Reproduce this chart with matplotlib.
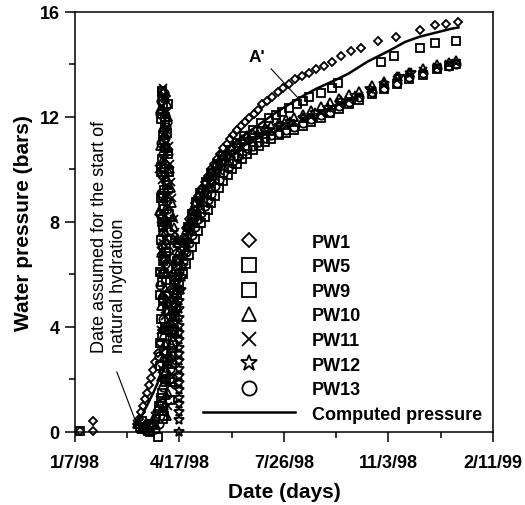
import matplotlib
matplotlib.use('Agg')
import matplotlib.pyplot as plt

plt.rcParams['font.family'] = ['Liberation Sans', 'DejaVu Sans']

# x values are days counted from 1/7/98
tick_days = [0, 100, 200, 300, 400]
tick_labels = ['1/7/98', '4/17/98', '7/26/98', '11/3/98', '2/11/99']

# PW1 (diamonds)
pw1_days = [5, 17, 17, 59, 61, 63, 65, 67, 69, 71, 73, 75, 77, 79, 81, 83,
            85, 86, 87, 88, 89, 91, 93, 95, 97, 99, 101,
            103, 106, 109, 112, 115, 118, 121, 124, 127, 130, 133, 136, 139,
            142, 145, 148, 151, 155, 159, 163, 167, 171, 175, 179, 184, 189,
            194, 199, 205, 211, 217, 224, 231, 238, 246, 255, 264, 274, 290,
            307, 330, 345, 355, 367]
pw1_vals = [0.05, 0.05, 0.4, 0.3, 0.5, 0.75, 1.0, 1.25, 1.5, 1.8, 2.05, 2.35,
            2.65, 3.0, 3.4, 3.9,
            6.5, 9.8, 12.8, 8.0, 4.9, 5.4, 5.9, 6.4, 6.8, 7.1, 7.25,
            7.4, 7.75, 8.1, 8.4, 8.7, 9.0, 9.25, 9.5, 9.75, 10.0, 10.2, 10.4,
            10.6, 10.8, 10.95, 11.15, 11.3, 11.5, 11.65, 11.8, 11.95, 12.1,
            12.25, 12.5, 12.6, 12.75, 12.95, 13.1, 13.25, 13.45, 13.55, 13.65,
            13.8, 13.95, 14.1, 14.3, 14.5, 14.6, 14.9, 15.05, 15.3, 15.5,
            15.55, 15.6]

# PW5 (squares)
pw5_days = [5, 62, 66, 70, 74, 79,
            80, 81, 81.5, 82, 82.5, 83, 83.5, 84, 84.5, 85, 85.5, 86, 87, 88,
            89, 90, 91, 92, 93, 94, 95, 96, 97, 98,
            100, 104, 108, 112, 116, 120, 125, 130, 136, 142, 148, 155, 162,
            170, 178, 186, 192, 198, 205, 212, 218, 224, 235, 246, 252, 293,
            305, 330, 345, 365]
pw5_vals = [0.05, 0.2, 0.1, 0.05, 0.3, -0.2,
            0.8, 2.5, 5.2, 7.3, 9.9, 12.1, 13.0, 11.3, 8.6, 6.0, 3.1, 1.9, 5.8,
            8.0, 10.6, 4.6, 2.0, 2.9, 3.8, 4.6, 5.3, 5.8, 6.2, 6.5,
            6.6, 7.2, 7.8, 8.3, 8.75, 9.1, 9.5, 9.85, 10.2, 10.5, 10.75, 11.0,
            11.25, 11.5, 11.75, 11.95, 12.05, 12.2, 12.35, 12.5, 12.6, 12.75,
            12.9, 13.1, 13.3, 14.1, 14.3, 14.6, 14.8, 14.9]
pw5_peak_days = [82, 83, 84, 85, 86, 87, 88, 82.5, 83.5, 84.5, 85.5, 86.5,
                 87.5, 88.5]
pw5_peak_vals = [1.3, 3.6, 0.5, 9.2, 11.8, 7.0, 2.7, 4.3, 8.0, 12.5, 10.0,
                 6.6, 3.9, 11.4]

# days shared by the lower group of gauges after the peak
band_days = [100, 103, 106, 109, 112, 115, 118, 121, 124, 127,
             130, 134, 138, 142, 146, 150, 155, 160, 165, 170,
             176, 182, 188, 195, 202, 210, 218, 226, 235, 244,
             253, 262, 272, 284, 296, 308, 320, 333, 346, 358, 365]

# PW9 (squares)
pw9_early_days = [64, 68, 72, 76,
                  80.5, 81, 81.5, 82, 82.5, 83, 83.5, 84, 84.5, 85, 85.5, 86,
                  87, 88, 89, 90, 91, 92, 93, 94, 95, 96, 97, 98, 99]
pw9_early_vals = [0.4, 0.15, 0.0, 0.25,
                  1.0, 3.4, 6.1, 8.9, 11.9, 12.9, 10.4, 7.8, 5.0, 2.3, 0.6,
                  4.0, 6.8, 9.4, 12.5, 8.3, 1.2, 1.9, 2.6, 3.3, 3.9, 4.4, 4.8,
                  5.2, 5.4]
pw9_peak_days = [83, 84, 85, 86, 87, 88, 82, 83.5, 84.5, 85.5, 86.5, 87.5,
                 88.5, 89.5]
pw9_peak_vals = [5.7, 9.0, 11.1, 12.0, 2.0, 4.6, 10.1, 1.5, 6.5, 8.5, 10.8,
                 3.0, 7.3, 9.9]
pw9_band = [5.6, 6.0, 6.4, 6.75, 7.05, 7.35, 7.65, 7.95, 8.2, 8.45,
            8.7, 9.0, 9.3, 9.55, 9.8, 10.0, 10.2, 10.4, 10.6, 10.75,
            10.9, 11.05, 11.15, 11.3, 11.4, 11.5, 11.65, 11.8, 11.95, 12.15,
            12.3, 12.5, 12.65, 12.85, 13.05, 13.25, 13.45, 13.6, 13.8, 13.95,
            14.0]

# PW10 (triangles)
pw10_early_days = [59, 63, 67, 71, 75, 78,
                   82, 82.5, 83, 83.5, 84, 84.5, 85, 85.5, 86, 86.5, 87, 87.5,
                   88, 88.5, 89, 89.5, 90, 91, 92, 93, 94, 95, 96, 97, 98]
pw10_early_vals = [0.3, 0.1, 0.3, 0.2, 0.5, 0.9,
                   2.1, 4.8, 7.6, 10.3, 13.0, 11.6, 8.9, 6.2, 3.4, 5.5, 9.7,
                   12.2, 10.8, 7.9, 6.6, 4.1, 10.7, 10.0, 9.3, 8.7, 8.2, 7.8,
                   7.5, 7.3, 7.2]
pw10_peak_days = [82, 83, 84, 85, 86, 87, 88, 89, 90, 84.5, 85.5, 86.5,
                  80.5, 81, 81.5, 83.5, 84.5, 85.5, 86.5, 87.5,
                  88, 89, 90, 91, 92, 93, 94, 95, 96, 97, 98, 99]
pw10_peak_vals = [6.8, 0.8, 2.8, 11.6, 7.6, 1.4, 4.6, 12.0, 9.9, 4.0, 10.1,
                  12.7,
                  8.4, 10.9, 12.3, 5.2, 6.9, 1.0, 8.2, 9.2,
                  0.6, 1.5, 2.2, 2.8, 3.4, 3.9, 4.4, 4.9, 5.3, 5.7, 6.1, 6.5]
pw10_band = [6.9, 7.3, 7.7, 8.05, 8.4, 8.7, 9.0, 9.25, 9.5, 9.7,
             9.9, 10.15, 10.35, 10.55, 10.7, 10.85, 11.0, 11.15, 11.3, 11.4,
             11.5, 11.6, 11.7, 11.8, 11.9, 12.0, 12.1, 12.25, 12.4, 12.55,
             12.7, 12.85, 13.0, 13.2, 13.35, 13.55, 13.7, 13.85, 14.0, 14.1,
             14.15]

# PW11 (crosses)
pw11_early_days = [59, 65, 69, 73, 77,
                   81.5, 82, 82.5, 83, 83.5, 84, 84.5, 85, 85.5, 86, 86.5, 87,
                   88, 89, 90, 91, 92, 93, 94.5, 96, 97.5]
pw11_early_vals = [0.3, 0.2, 0.05, 0.35, 0.6,
                   1.2, 3.9, 6.9, 9.6, 12.4, 13.1, 10.9, 8.2, 5.3, 2.6, 4.4,
                   11.5, 9.0, 6.0, 10.9, 10.2, 9.5, 8.9, 8.1, 7.6, 7.25]
pw11_peak_days = [82, 83, 84, 85, 86, 87, 88, 89, 90, 91,
                  80.5, 81, 84, 85.5, 86.5, 87.5, 88.5,
                  89, 90.5, 92, 93.5, 95, 96.5, 98, 99]
pw11_peak_vals = [8.1, 2.4, 7.2, 12.2, 10.4, 3.2, 5.0, 8.6, 6.0, 3.0,
                  10.0, 6.1, 11.3, 0.9, 12.8, 7.4, 4.0,
                  1.0, 1.8, 2.7, 3.6, 4.3, 5.0, 5.6, 6.0]
pw11_band = [6.4, 6.85, 7.25, 7.6, 7.9, 8.2, 8.5, 8.75, 9.0, 9.2,
             9.4, 9.7, 9.95, 10.15, 10.35, 10.5, 10.7, 10.85, 11.0, 11.1,
             11.25, 11.35, 11.45, 11.55, 11.65, 11.75, 11.9, 12.0, 12.15, 12.3,
             12.5, 12.65, 12.8, 13.0, 13.2, 13.4, 13.6, 13.75, 13.9, 14.0,
             14.05]

# PW12 (stars)
pw12_days = [100, 100, 100, 100, 100, 100, 100, 100, 100, 100, 100, 100,
             100, 100, 100, 100, 100, 100,
             101, 102, 103, 105, 107, 110, 113, 116, 120, 125, 130, 136, 142,
             150, 158, 166, 175, 185, 195, 206, 218, 230, 242, 255, 268, 282,
             296, 310, 322]
pw12_vals = [0.0, 0.45, 0.75, 1.05, 1.3, 1.6, 1.85, 2.15, 2.4, 2.7, 2.95, 3.2,
             3.5, 3.75, 4.05, 4.35, 4.7, 5.0,
             5.4, 5.9, 6.3, 6.8, 7.2, 7.6, 8.0, 8.3, 8.7, 9.1, 9.5, 9.9, 10.25,
             10.6, 10.9, 11.1, 11.3, 11.5, 11.65, 11.8, 11.95, 12.15, 12.35,
             12.6, 12.8, 13.05, 13.25, 13.5, 13.65]

# PW13 (circles)
pw13_early_days = [66, 72, 77,
                   80, 80.5, 81, 81.5, 82, 82.5, 83, 83.5, 84, 84.5, 85, 86,
                   87, 88, 89, 90, 90.5, 91, 92, 93, 94, 95, 96, 97, 98]
pw13_early_vals = [0.15, 0.3, 0.1,
                   0.3, 2.9, 5.6, 8.3, 11.0, 12.6, 9.8, 7.1, 4.3, 1.7, 3.6,
                   6.4, 8.8, 11.8, 9.2, 5.0, 2.4, 7.4, 3.2, 3.9, 4.5, 5.1, 5.7,
                   6.3, 7.2]
pw13_peak_days = [83, 84, 85, 86, 87, 88, 89, 85.5, 86.5, 87.5,
                  81, 82, 83, 84, 85, 86, 87, 88]
pw13_peak_vals = [1.1, 10.6, 12.9, 9.6, 4.9, 2.6, 6.9, 8.0, 11.2, 12.4,
                  12.1, 9.1, 5.1, 7.6, 10.2, 2.0, 11.6, 8.5]
pw13_band = [6.1, 6.5, 6.85, 7.2, 7.5, 7.8, 8.1, 8.35, 8.6, 8.85,
             9.05, 9.35, 9.6, 9.85, 10.05, 10.25, 10.45, 10.6, 10.8, 10.9,
             11.05, 11.2, 11.3, 11.4, 11.5, 11.6, 11.75, 11.9, 12.05, 12.2,
             12.4, 12.55, 12.75, 12.95, 13.1, 13.3, 13.5, 13.65, 13.85, 13.95,
             14.0]

# computed pressure
comp_days = [58, 65, 70, 75, 80, 84, 88, 93, 97, 100, 103, 106, 110, 115, 120,
             130, 140, 148, 160, 176, 190, 200, 214, 230, 252, 262, 280, 300,
             316, 330, 345, 360, 367]
comp_vals = [0.25, 0.7, 1.1, 1.5, 1.95, 2.3, 2.9, 3.8, 5.0, 6.0, 6.7, 7.2,
             7.75, 8.3, 8.8, 9.6, 10.3, 10.86, 11.25, 11.7, 12.1, 12.35, 12.7,
             13.05, 13.45, 13.65, 14.1, 14.5, 14.85, 15.05, 15.2, 15.35, 15.4]

fig = plt.figure(figsize=(5.25, 5.06), dpi=100)
ax = fig.add_axes([0.1429, 0.1443, 0.796, 0.8306])

mk = dict(linestyle='none', mfc='none', mec='black', color='black',
          mew=1.3, clip_on=False)
h1, = ax.plot(pw1_days, pw1_vals, marker='D', ms=4.2, label='PW1', **mk)
h5, = ax.plot(pw5_days + pw5_peak_days, pw5_vals + pw5_peak_vals,
              marker='s', ms=5.8, label='PW5', **mk)
h9, = ax.plot(pw9_early_days + pw9_peak_days + band_days,
              pw9_early_vals + pw9_peak_vals + pw9_band,
              marker='s', ms=5.8, label='PW9', **mk)
h10, = ax.plot(pw10_early_days + pw10_peak_days + band_days,
               pw10_early_vals + pw10_peak_vals + pw10_band,
               marker='^', ms=6, label='PW10', **mk)
h11, = ax.plot(pw11_early_days + pw11_peak_days + band_days,
               pw11_early_vals + pw11_peak_vals + pw11_band,
               marker='x', ms=6, label='PW11', **mk)
h12, = ax.plot(pw12_days, pw12_vals, marker='*', ms=7, label='PW12', **mk)
h13, = ax.plot(pw13_early_days + pw13_peak_days + band_days,
               pw13_early_vals + pw13_peak_vals + pw13_band,
               marker='o', ms=6, label='PW13', **mk)
hc, = ax.plot(comp_days, comp_vals, color='black', lw=1.8,
              label='Computed pressure', zorder=5)

ax.set_xlim(0, 400)
ax.set_ylim(0, 16)
ax.set_xticks(tick_days)
ax.set_xticklabels(tick_labels, fontweight='bold', fontsize=13)
ax.set_xticks([50, 150, 250, 350], minor=True)
ax.set_yticks([0, 4, 8, 12, 16])
ax.set_yticklabels(['0', '4', '8', '12', '16'], fontweight='bold', fontsize=13)
ax.set_yticks([2, 6, 10, 14], minor=True)
ax.tick_params(axis='x', which='major', length=7.5, width=1.1, pad=8.5)
ax.tick_params(axis='y', which='major', length=7.5, width=1.1, pad=3.5)
ax.tick_params(which='minor', length=4.5, width=1.1)
for s in ax.spines.values():
    s.set_linewidth(1.1)

ax.set_xlabel('Date (days)', fontsize=15, fontweight='bold', labelpad=7.5)
ax.set_ylabel('Water pressure (bars)', fontsize=15, fontweight='bold',
              labelpad=5)

ax.legend(handles=[h1, h5, h9, h10, h11, h12, h13, hc],
          loc='lower left', bbox_to_anchor=(0.306, 0.022), frameon=False,
          borderpad=0, borderaxespad=0, handlelength=5.1, handletextpad=0.94,
          labelspacing=0.42, markerscale=1.7, numpoints=1,
          prop={'weight': 'bold', 'size': 13})

ax.text(174, 14.3, "A'", ha='center', va='center', fontsize=12.5,
        fontweight='bold')
ax.annotate('', xy=(214, 12.69), xytext=(187.6, 13.83),
            arrowprops=dict(arrowstyle='-', lw=0.8, color='black',
                            shrinkA=0, shrinkB=0))

ax.text(32.4, 3.05, 'Date assumed for the start of\nnatural hydration',
        rotation=90, ha='center', va='bottom', multialignment='left',
        fontsize=13)
ax.annotate('', xy=(57.1, 0.5), xytext=(40, 2.29),
            arrowprops=dict(arrowstyle='-', lw=0.8, color='black',
                            shrinkA=0, shrinkB=0))

fig.savefig('out.png', dpi=100)
